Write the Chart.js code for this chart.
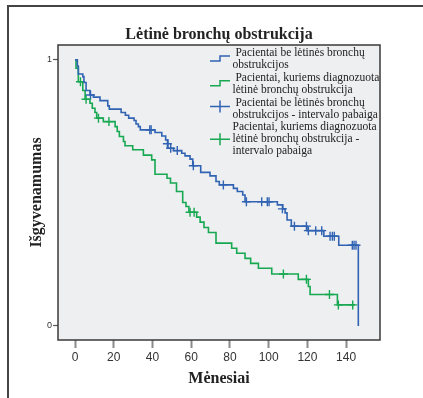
<!DOCTYPE html>
<html>
<head>
<meta charset="utf-8">
<script src="https://cdn.jsdelivr.net/npm/chart.js@4.4.1/dist/chart.umd.min.js"></script>
<style>
    html, body { margin: 0; padding: 0; background: #fff; overflow: hidden; }
    #frame { position: absolute; left: 7px; top: 5px; width: 600px; height: 600px; border-left: 2px solid #444; border-top: 2px solid #444; }
    #wrap { position: absolute; left: 0; top: 0; width: 423px; height: 398px; }
</style>
</head>
<body>
<div id="frame"></div>
<div id="wrap"><canvas id="kmChart" width="423" height="398"></canvas></div>
<script>
// Kaplan-Meier kreivės (mėnesiai, išgyvenamumas)
const blueTimes = [0, 1.2, 1.7, 4.0, 4.6, 5.7, 7.7, 9.5, 12.9, 16.9, 17.7, 23.8, 26.0, 27.7, 30.5, 31.5, 32.7, 33.7, 41.3, 44.8, 46.8, 48.0, 50.8, 55.1, 56.8, 59.4, 60.8, 64.9, 69.7, 72.8, 74.5, 81.8, 83.8, 86.6, 87.8, 104.5, 107.3, 108.5, 109.5, 111.7, 119.8, 128.5, 136.2, 146.3];
const blueSurv = [1.0, 0.977, 0.947, 0.937, 0.915, 0.885, 0.868, 0.86, 0.847, 0.827, 0.815, 0.802, 0.792, 0.781, 0.772, 0.759, 0.749, 0.737, 0.727, 0.714, 0.699, 0.668, 0.659, 0.649, 0.639, 0.627, 0.602, 0.577, 0.564, 0.543, 0.53, 0.517, 0.505, 0.492, 0.467, 0.455, 0.44, 0.425, 0.398, 0.375, 0.358, 0.337, 0.303, 0];

const greenTimes = [0, 0.5, 1.7, 4.0, 5.2, 7.7, 8.9, 10.3, 11.2, 14.6, 20.7, 21.8, 22.9, 25.0, 25.8, 29.8, 35.3, 39.6, 41.3, 47.5, 49.3, 52.4, 55.6, 57.3, 58.8, 62.8, 64.6, 66.6, 68.9, 72.8, 80.9, 83.5, 87.8, 90.7, 94.7, 101.6, 115.3, 120.5, 121.4, 135.5, 144.5];
const greenSurv = [1.0, 0.969, 0.918, 0.885, 0.852, 0.837, 0.818, 0.802, 0.781, 0.768, 0.749, 0.731, 0.712, 0.693, 0.677, 0.662, 0.642, 0.624, 0.57, 0.555, 0.537, 0.505, 0.464, 0.449, 0.427, 0.409, 0.39, 0.37, 0.351, 0.311, 0.292, 0.273, 0.254, 0.235, 0.217, 0.195, 0.175, 0.148, 0.118, 0.079, 0.079];

// cenzūruoti stebėjimai (intervalo pabaiga)
const blueCensorTimes = [8.0, 38.6, 39.3, 47.7, 49.4, 52.8, 61.1, 76.6, 88.5, 96.4, 99.3, 100.2, 107.1, 113.3, 119.5, 120.5, 124.3, 127.4, 131.7, 132.9, 133.9, 143.2, 144.1, 145.1];
const blueCensorSurv = [0.868, 0.737, 0.737, 0.685, 0.668, 0.659, 0.602, 0.53, 0.467, 0.467, 0.467, 0.467, 0.44, 0.375, 0.375, 0.358, 0.358, 0.358, 0.337, 0.337, 0.337, 0.303, 0.303, 0.303];
const greenCensorTimes = [2.8, 5.7, 12.1, 17.5, 59.4, 61.5, 107.6, 119.5, 131.4, 136.0, 143.4];
const greenCensorSurv = [0.918, 0.852, 0.781, 0.768, 0.427, 0.427, 0.195, 0.175, 0.118, 0.079, 0.079];

const xTicks = [0, 20, 40, 60, 80, 100, 120, 140];
const yTicks = [0, 1];

const chartTitle = 'Lėtinė bronchų obstrukcija';
const xTitle = 'Mėnesiai';
const yTitle = 'Išgyvenamumas';
const legendLabels = [
    [' Pacientai be lėtinės bronchų', 'obstrukcijos'],
    [' Pacientai, kuriems diagnozuota', 'lėtinė bronchų obstrukcija'],
    [' Pacientai be lėtinės bronchų', 'obstrukcijos - intervalo pabaiga'],
    ['Pacientai, kuriems diagnozuota', 'lėtinė bronchų obstrukcija -', 'intervalo pabaiga']
];

const BLUE = '#3163b3';
const GREEN = '#17a852';
const SERIF = '"Liberation Serif", "Times New Roman", serif';
const SANS = '"Liberation Sans", Arial, sans-serif';

const toPoints = (xs, ys) => xs.map((x, i) => ({ x: x, y: ys[i] }));

const plotFrame = {
    id: 'plotFrame',
    beforeDraw(chart) {
        const { ctx, chartArea: a } = chart;
        ctx.save();
        ctx.fillStyle = '#eeeff1';
        ctx.fillRect(a.left, a.top, a.right - a.left, a.bottom - a.top);
        ctx.restore();
    },
    afterDraw(chart) {
        const { ctx, chartArea: a } = chart;
        ctx.save();
        ctx.strokeStyle = '#3a3a3a';
        ctx.lineWidth = 1.5;
        ctx.strokeRect(a.left, a.top, a.right - a.left, a.bottom - a.top);
        ctx.restore();
    }
};

// legenda su keliomis eilutėmis
const kmLegend = {
    id: 'kmLegend',
    afterDraw(chart) {
        const { ctx, chartArea: a } = chart;
        const iconX = a.left + 152, iconW = 20, textX = a.left + 174.5;
        const itemTops = [53.3, 78.3, 103, 127.3];
        const iconYs = [58.5, 83.3, 106.5, 139.3];
        const colors = [BLUE, GREEN, BLUE, GREEN];
        const lineH = 11.8;
        ctx.save();
        legendLabels.forEach((lines, i) => {
            ctx.strokeStyle = colors[i];
            ctx.lineWidth = 1.5;
            ctx.beginPath();
            const cy = iconYs[i];
            if (i < 2) {
                ctx.moveTo(iconX, cy + 2.5);
                ctx.lineTo(iconX + iconW / 2, cy + 2.5);
                ctx.lineTo(iconX + iconW / 2, cy - 2.5);
                ctx.lineTo(iconX + iconW, cy - 2.5);
            } else {
                ctx.moveTo(iconX, cy);
                ctx.lineTo(iconX + iconW, cy);
                ctx.moveTo(iconX + iconW / 2, cy - 6);
                ctx.lineTo(iconX + iconW / 2, cy + 6);
            }
            ctx.stroke();
            ctx.fillStyle = '#222';
            ctx.font = '11.5px ' + SERIF;
            ctx.textBaseline = 'middle';
            ctx.textAlign = 'left';
            lines.forEach((t, j) => ctx.fillText(t, textX, itemTops[i] + j * lineH));
        });
        ctx.restore();
    }
};

const ctx = document.getElementById('kmChart').getContext('2d');
new Chart(ctx, {
    type: 'line',
    data: {
        datasets: [
            { data: toPoints(blueTimes, blueSurv), borderColor: BLUE, borderWidth: 1.6, stepped: 'before', pointRadius: 0 },
            { data: toPoints(greenTimes, greenSurv), borderColor: GREEN, borderWidth: 1.6, stepped: 'before', pointRadius: 0 },
            { data: toPoints(blueCensorTimes, blueCensorSurv), showLine: false, pointStyle: 'cross', pointRadius: 4.5, borderColor: BLUE, borderWidth: 1.4 },
            { data: toPoints(greenCensorTimes, greenCensorSurv), showLine: false, pointStyle: 'cross', pointRadius: 4.5, borderColor: GREEN, borderWidth: 1.4 }
        ]
    },
    options: {
        responsive: false,
        animation: false,
        layout: { padding: { top: 0, left: 0, right: 43, bottom: 0 } },
        plugins: {
            legend: { display: false },
            tooltip: { enabled: false },
            title: {
                display: true, text: chartTitle, color: '#222', fullSize: false,
                font: { family: SERIF, size: 16, weight: 'bold', lineHeight: 1.2 },
                padding: { top: 25.2, bottom: 0.6 }
            }
        },
        scales: {
            x: {
                type: 'linear', min: -8.8, max: 157.5,
                afterBuildTicks: s => { s.ticks = xTicks.map(v => ({ value: v })); },
                afterFit: s => { s.height = 58; },
                grid: { drawOnChartArea: false, drawTicks: true, tickLength: 8, tickWidth: 2, tickColor: '#8a8a8a' },
                border: { display: false },
                ticks: { color: '#333', padding: 2, maxRotation: 0, font: { family: SANS, size: 12 } },
                title: { display: true, text: xTitle, color: '#222', font: { family: SERIF, size: 16, weight: 'bold', lineHeight: 1.2 }, padding: { top: 0, bottom: 9.4 } }
            },
            y: {
                type: 'linear', min: -0.053, max: 1.056,
                afterBuildTicks: s => { s.ticks = yTicks.map(v => ({ value: v })); },
                afterFit: s => { s.width = 58; },
                grid: { drawOnChartArea: false, drawTicks: true, tickLength: 5, tickWidth: 1.2, tickColor: '#555' },
                border: { display: false },
                ticks: { color: '#333', padding: 1, font: { family: SANS, size: 9 } },
                title: { display: true, text: yTitle, color: '#222', font: { family: SERIF, size: 16, weight: 'bold', lineHeight: 1.2 }, padding: { top: 27.4, bottom: 0 } }
            }
        }
    },
    plugins: [plotFrame, kmLegend]
});
</script>
</body>
</html>
